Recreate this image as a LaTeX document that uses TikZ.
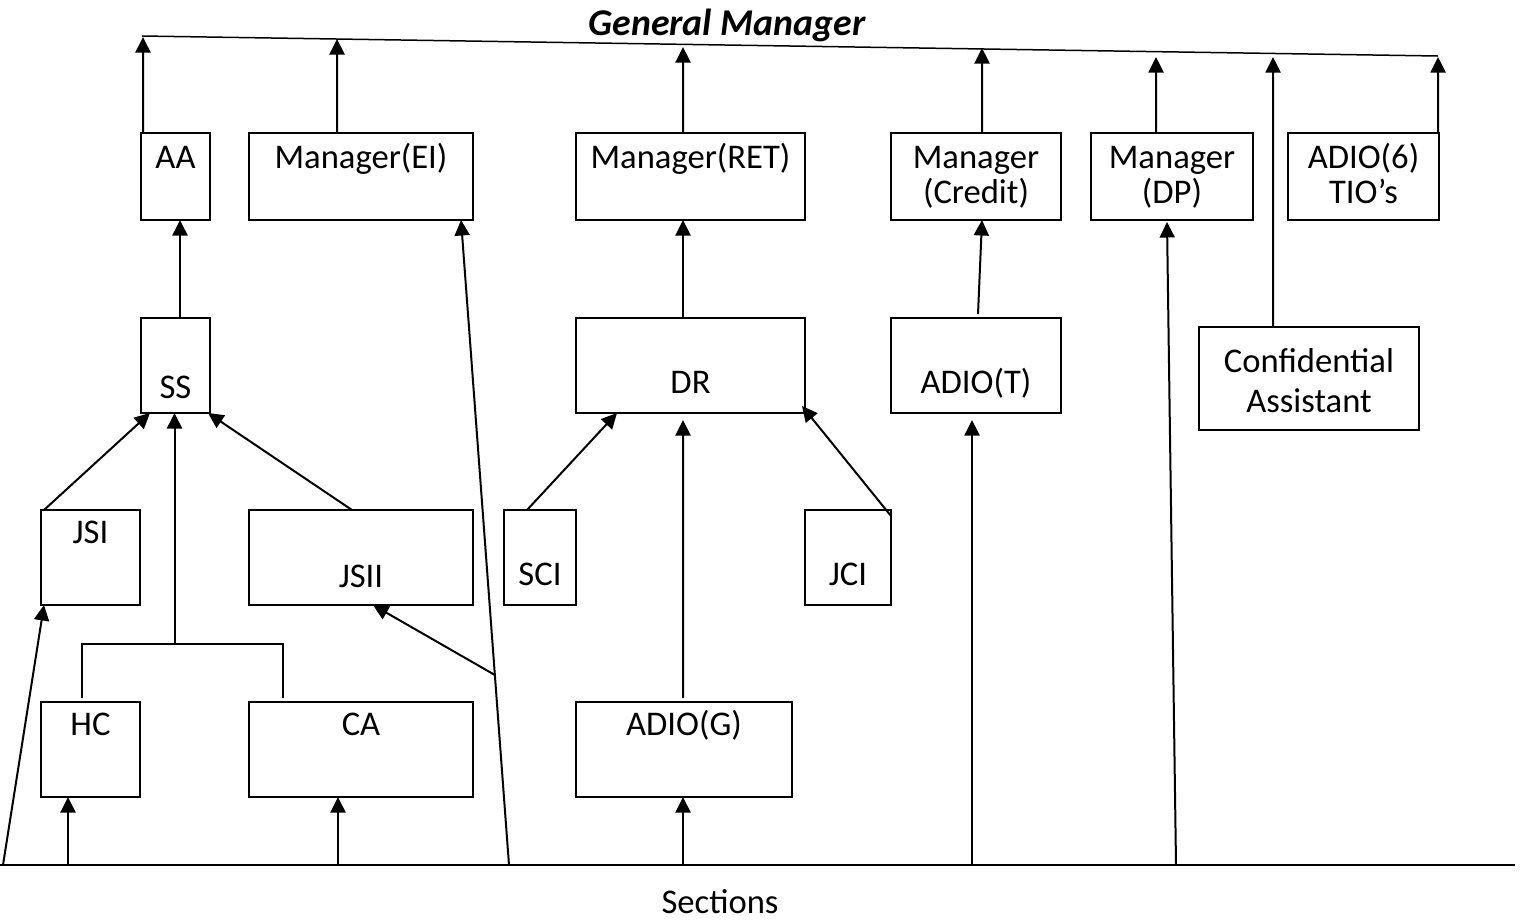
\documentclass[tikz,border=0pt]{standalone}
\usepackage{fontspec}
\setmainfont{Carlito}
\usetikzlibrary{arrows.meta,calc}
\newcommand\obox[5]{\node[box, minimum width={(#4-#2)*0.02cm}, minimum height={(#5-#3)*0.02cm}] (#1) at ({(#2+#4)/2},{(#3+#5)/2}) {};}
\newcommand\otxt[4]{\node[txt] (#1) at (#2,#3) {#4};}
\begin{document}
\begin{tikzpicture}[x=0.02cm,y=-0.02cm,
  box/.style={draw, line width=0.04cm, inner sep=0pt, outer sep=0pt},
  txt/.style={inner sep=0pt, anchor=base, font=\fontsize{19.7}{23}\selectfont},
  ln/.style={line width=0.04cm},
  arr/.style={ln, -{Triangle[length=0.31cm,width=0.3cm]}}]
\useasboundingbox (0,0) rectangle (1523,920);

% boxes
\obox{AA}{141}{133}{210}{220}
\obox{EI}{249}{133}{473}{220}
\obox{RET}{576}{133}{805}{220}
\obox{CR}{891}{133}{1061}{220}
\obox{DP}{1091}{133}{1253}{220}
\obox{AS}{1288}{133}{1439}{220}
\obox{SS}{141}{318}{210}{413}
\obox{DR}{576}{318}{805}{413}
\obox{ADT}{891}{318}{1061}{413}
\obox{CAS}{1199}{327}{1419}{430}
\obox{JSI}{41}{510}{140}{605}
\obox{JSII}{249}{510}{473}{605}
\obox{SCI}{504}{510}{576}{605}
\obox{JCI}{805}{510}{891}{605}
\obox{HC}{41}{702}{140}{797}
\obox{CA}{249}{702}{473}{797}
\obox{ADG}{576}{702}{792}{797}

% texts
\node[txt, font=\fontsize{21.5}{25}\selectfont\bfseries\itshape] (GM) at (727,35) {General Manager};
\otxt{AAt}{175.5}{168}{AA}
\otxt{EIt}{361}{168}{Manager(EI)}
\otxt{RETt}{690.5}{168}{Manager(RET)}
\otxt{CRt1}{976}{168}{Manager}
\otxt{CRt2}{976}{203}{(Credit)}
\otxt{DPt1}{1172}{168}{Manager}
\otxt{DPt2}{1172}{203}{(DP)}
\otxt{ASt1}{1363.5}{168}{ADIO(6)}
\otxt{ASt2}{1363.5}{203}{TIO’s}
\otxt{SSt}{175.5}{398}{SS}
\otxt{DRt}{690.5}{393}{DR}
\otxt{ADTt}{976}{393}{ADIO(T)}
\otxt{CASt1}{1309}{372}{Confidential}
\otxt{CASt2}{1309}{412}{Assistant}
\otxt{JSIt}{90.5}{543}{JSI}
\otxt{JSIIt}{361}{587}{JSII}
\otxt{SCIt}{540}{585}{SCI}
\otxt{JCIt}{848}{585}{JCI}
\otxt{HCt}{90.5}{735}{HC}
\otxt{CAt}{361}{735}{CA}
\otxt{ADGt}{684}{735}{ADIO(G)}
\otxt{SECt}{720}{913}{Sections}

% top line
\coordinate (tl) at (142,36);
\coordinate (tr) at (1438,56);
\draw[line width=0.03cm] (tl) -- (tr);
\coordinate (t1) at (143,37);
\coordinate (t2) at (337,39);
\coordinate (t3) at (683,47);
\coordinate (t4) at (982,48);
\coordinate (t5) at (1156,57);
\coordinate (t6) at (1273,57);
\coordinate (t7) at (1438,57);
\draw[arr] ([xshift=0.04cm]AA.north west) -- (t1);
\draw[arr] ([xshift=-0.48cm]EI.north) -- (t2);
\draw[arr] ([xshift=-0.15cm]RET.north) -- (t3);
\draw[arr] ([xshift=0.12cm]CR.north) -- (t4);
\draw[arr] ([xshift=-0.32cm]DP.north) -- (t5);
\draw[arr] ([xshift=-0.72cm]CAS.north) -- (t6);
\draw[arr] ([xshift=-0.02cm]AS.north east) -- (t7);

% bottom line
\coordinate (bl) at (0,865);
\coordinate (br) at (1515,865);
\draw[ln] (bl) -- (br);

% left group
\draw[arr] ([xshift=0.09cm]SS.north) -- ([xshift=0.09cm]AA.south);
\draw[arr] ([xshift=0.06cm]JSI.north west) -- ([xshift=0.18cm]SS.south west);
\draw[arr] ([xshift=-0.18cm]JSII.north) -- ([xshift=-0.04cm]SS.south east);
\coordinate (jn) at (174.5,644);
\coordinate (hcleg) at ([xshift=-0.17cm,yshift=0.08cm]HC.north);
\coordinate (caleg) at ([xshift=0.68cm,yshift=0.08cm]CA.north west);
\draw[ln] (hcleg) -- (hcleg |- jn) -- (caleg |- jn) -- (caleg);
\draw[arr] (jn) -- (jn |- SS.south);
\draw[arr] ([xshift=0.06cm]bl) -- ([xshift=0.06cm]JSI.south west);
\draw[arr] ([xshift=-0.45cm]HC.south |- bl) -- ([xshift=-0.45cm]HC.south);
\draw[arr] ([xshift=-0.46cm]CA.south |- bl) -- ([xshift=-0.46cm]CA.south);
\coordinate (eib) at (509,865);
\coordinate (eitip) at ([xshift=-0.24cm]EI.south east);
\draw[arr] (eib) -- (eitip);
\coordinate (eim) at ($(eib)!0.2946!(eitip)$);
\draw[arr] (eim) -- ([xshift=0.24cm]JSII.south);

% middle group
\draw[arr] ([xshift=-0.02cm]ADG.south |- bl) -- ([xshift=-0.02cm]ADG.south);
\draw[arr] ([xshift=-0.02cm,yshift=0.08cm]ADG.north) -- ([xshift=-0.15cm,yshift=-0.14cm]DR.south);
\draw[arr] ([xshift=-0.26cm]SCI.north) -- ([xshift=0.82cm]DR.south west);
\draw[arr] ([yshift=-0.12cm]JCI.north east) -- ([xshift=-0.06cm,yshift=0.14cm]DR.south east);
\draw[arr] ([xshift=-0.15cm]DR.north) -- ([xshift=-0.15cm]RET.south);

% right group
\draw[arr] ([xshift=0.04cm,yshift=0.08cm]ADT.north) -- ([xshift=0.12cm]CR.south);
\draw[arr] ([xshift=-0.08cm]ADT.south |- bl) -- ([xshift=-0.08cm,yshift=-0.14cm]ADT.south);
\draw[arr] (1176,865) coordinate (dpb) -- ([xshift=-0.1cm,yshift=-0.04cm]DP.south);
\end{tikzpicture}
\end{document}
